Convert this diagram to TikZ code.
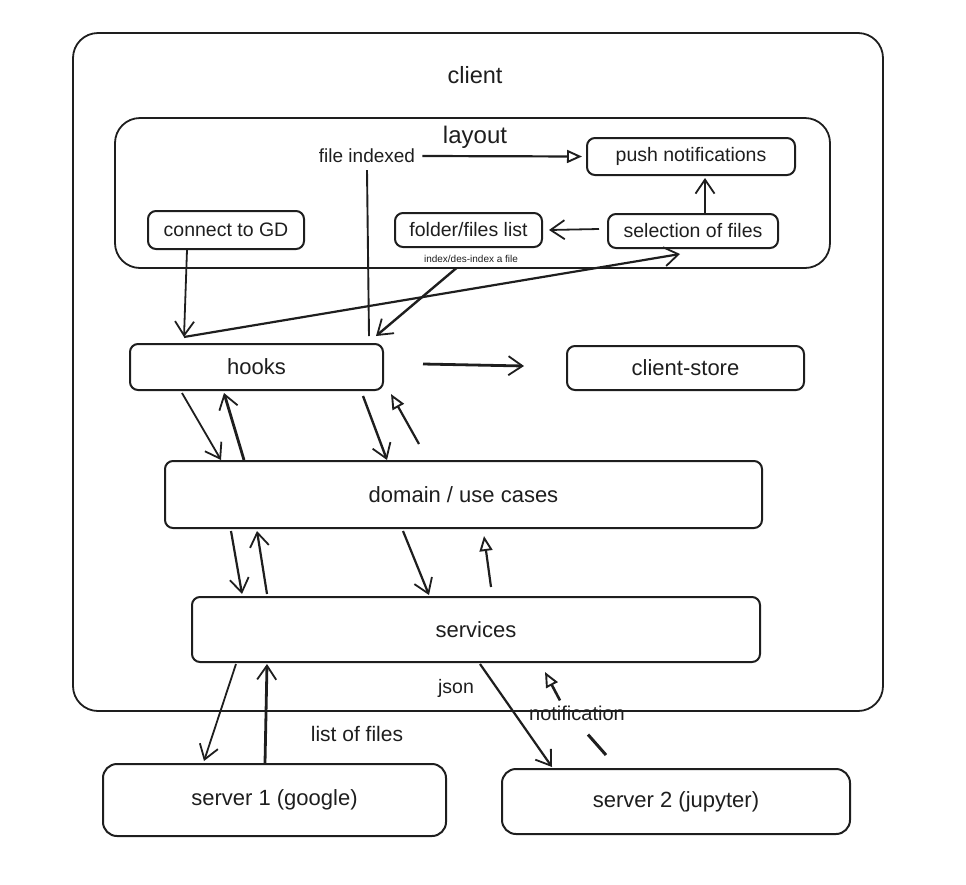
\documentclass[tikz,border=0pt]{standalone}
\usepackage{fontspec}
\setmainfont{Liberation Sans}
\usetikzlibrary{arrows.meta}
\definecolor{ink}{HTML}{1E1E1E}
\begin{document}
\begin{tikzpicture}[x=1pt,y=-1pt, color=ink,
  frame/.style={draw=ink, line width=1.8pt, rounded corners=25pt, inner sep=0pt},
  box/.style={draw=ink, line width=2pt, rounded corners=8pt, inner sep=0pt, font=\fontsize{22}{26}\selectfont},
  sbox/.style={box, font=\fontsize{19.5}{23}\selectfont},
  srv/.style={box, rounded corners=14pt},
  lbl/.style={inner sep=1pt, text=ink, font=\fontsize{20}{24}\selectfont},
  arr/.style={draw=ink, line width=1.8pt, -{Straight Barb[length=14pt,width=19pt,line width=1.8pt]}},
  thk/.style={arr, line width=2.8pt},
  tri/.style={draw=ink, line width=2.2pt, -{Triangle[open,length=15pt,width=13pt,line width=1.9pt]}},
  plain/.style={draw=ink, line width=1.9pt}
]
\useasboundingbox (0,0) rectangle (966,884);

% frames
\node[frame, minimum width=810pt, minimum height=678pt] (clientbox) at (478,372) {};
\node[lbl, font=\fontsize{23.5}{27}\selectfont] (clientlbl) at (475,75) {client};
\node[frame, minimum width=715pt, minimum height=150pt] (layoutbox) at (472.5,193) {};
\node[lbl, font=\fontsize{24}{28}\selectfont] (layoutlbl) at (475,137) {layout};

% layout content
\node[lbl, font=\fontsize{19}{23}\selectfont] (fileidx) at (367,156) {file indexed};
\node[sbox, minimum width=208pt, minimum height=37pt] (push) at (691,156.5) {push notifications};
\node[sbox, minimum width=156pt, minimum height=38pt] (connect) at (226,230) {connect to GD};
\node[sbox, minimum width=147pt, minimum height=34pt] (folder) at (468.5,230) {folder/files list};
\node[lbl, font=\fontsize{10}{12}\selectfont] (idxlbl) at (471,259) {index/des-index a file};
\node[sbox, minimum width=170pt, minimum height=34pt] (select) at (693,231) {selection of files};

% main boxes
\node[box, minimum width=253pt, minimum height=46pt] (hooks) at (256.5,367) {hooks};
\node[box, minimum width=237pt, minimum height=44pt] (store) at (685.5,368) {client-store};
\node[box, minimum width=597pt, minimum height=67pt] (domain) at (463.5,494.5) {domain / use cases};
\node[box, minimum width=568pt, minimum height=65pt] (services) at (476,629.5) {services};
\node[srv, minimum width=343pt, minimum height=72pt] (server1) at (274.5,800) {server 1 (google)};
\node[srv, minimum width=348pt, minimum height=65pt] (server2) at (676,801.5) {server 2 (jupyter)};

% edge labels
\node[lbl, font=\fontsize{21}{25}\selectfont] (listlbl) at (357,734) {list of files};
\node[lbl, font=\fontsize{19.5}{23}\selectfont] (jsonlbl) at (456,688) {json};
\node[lbl, font=\fontsize{20}{24}\selectfont] (notif) at (577,713) {notification};

% layout connectors
\draw[tri] ([xshift=6pt]fileidx.east) -- ([xshift=-4pt]push.west);
\draw[plain] ([yshift=-6pt]fileidx.south) -- ([xshift=-15pt,yshift=7pt]hooks.north east);
\draw[arr] ([xshift=-8pt,yshift=2pt]select.west) -- ([xshift=6pt]folder.east);
\draw[arr] ([xshift=12pt]select.north) -- ([xshift=14pt,yshift=-2pt]push.south);

% to hooks
\draw[arr] ([xshift=-39pt]connect.south) -- ([xshift=55pt,yshift=6pt]hooks.north west);
\draw[arr, line width=2.2pt] ([xshift=55pt,yshift=6pt]hooks.north west) -- ([xshift=-13pt,yshift=-5pt]select.south);
\draw[arr, line width=2.4pt] ([xshift=-12pt,yshift=-20pt]folder.south) -- ([xshift=-8pt,yshift=7pt]hooks.north east);
\draw[thk] ([xshift=39pt,yshift=3pt]hooks.east) -- ([xshift=-42pt,yshift=2pt]store.west);

% hooks <-> domain
\draw[arr] ([xshift=53pt,yshift=-2pt]hooks.south west) -- ([xshift=57pt]domain.north west);
\draw[thk] ([xshift=80pt]domain.north west) -- ([xshift=95pt,yshift=-2pt]hooks.south west);
\draw[arr, line width=2.4pt] ([xshift=-21pt,yshift=-5pt]hooks.south east) -- ([xshift=223pt]domain.north west);
\draw[tri] ([xshift=255pt,yshift=16pt]domain.north west) -- ([xshift=7pt,yshift=-3pt]hooks.south east);

% domain <-> services
\draw[arr, line width=2.2pt] ([xshift=67pt,yshift=-2pt]domain.south west) -- ([xshift=51pt,yshift=2pt]services.north west);
\draw[arr, line width=2.2pt] ([xshift=76pt,yshift=2pt]services.north west) -- ([xshift=93pt,yshift=-2pt]domain.south west);
\draw[arr, line width=2.2pt] ([xshift=239pt,yshift=-2pt]domain.south west) -- ([xshift=238pt,yshift=1pt]services.north west);
\draw[tri] ([xshift=300pt,yshift=9pt]services.north west) -- ([xshift=320pt,yshift=-7pt]domain.south west);

% services <-> servers
\draw[arr] ([xshift=45pt,yshift=-1pt]services.south west) -- ([xshift=102pt,yshift=2pt]server1.north west);
\draw[thk] ([xshift=163pt]server1.north west) -- ([xshift=76pt,yshift=-1pt]services.south west);
\draw[arr, line width=2.2pt] ([xshift=4pt,yshift=-1pt]services.south) -- ([xshift=51pt,yshift=1pt]server2.north west);
\draw[draw=ink, line width=3pt] ([xshift=105pt,yshift=13pt]server2.north west) -- ([xshift=11pt,yshift=-13pt]notif.south);
\draw[tri, line width=2.6pt] ([xshift=-17pt,yshift=4pt]notif.north) -- ([xshift=69pt,yshift=-9pt]services.south);
\end{tikzpicture}
\end{document}
